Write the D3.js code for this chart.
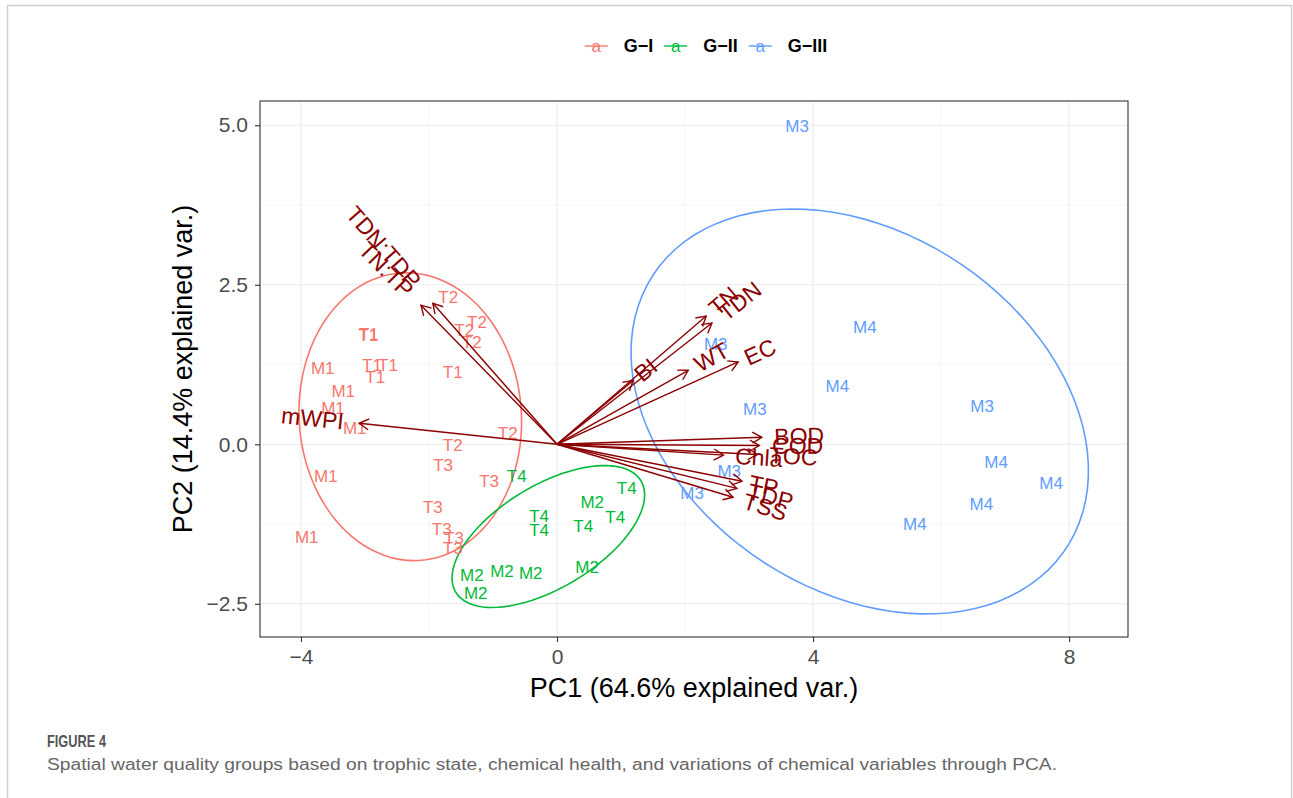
<!DOCTYPE html>
<html>
<head>
<meta charset="utf-8">
<script src="https://cdn.jsdelivr.net/npm/d3@7"></script>
<style>
  body { margin: 0; background: #fff; }
  text { font-family: "Liberation Sans", Arial, sans-serif; }
</style>
</head>
<body>
<div id="chart"></div>
<script>
// groups and their colours
const groupNames = ["G\u2212I", "G\u2212II", "G\u2212III"];
const groupColors = ["#F8766D", "#00BA38", "#619CFF"];

// observations (site labels, group index, PC scores)
const obsLabels = [
  "T1","T1","T1","T1","T1","T1",
  "T2","T2","T2","T2","T2","T2",
  "T3","T3","T3","T3","T3","T3",
  "M1","M1","M1","M1","M1","M1",
  "T4","T4","T4","T4","T4","T4",
  "M2","M2","M2","M2","M2","M2",
  "M3","M3","M3","M3","M3","M3",
  "M4","M4","M4","M4","M4","M4"
];
const obsGroup = [
  0,0,0,0,0,0, 0,0,0,0,0,0, 0,0,0,0,0,0, 0,0,0,0,0,0,
  1,1,1,1,1,1, 1,1,1,1,1,1,
  2,2,2,2,2,2, 2,2,2,2,2,2
];
const pc1 = [
  -2.95,-2.94,-2.89,-2.64,-2.84,-1.63,
  -1.70,-1.25,-1.45,-1.33,-0.77,-1.63,
  -1.78,-1.06,-1.94,-1.80,-1.61,-1.63,
  -3.66,-3.34,-3.50,-3.16,-3.61,-3.91,
  -0.63, 1.09, 0.91,-0.28,-0.28, 0.41,
   0.55,-1.33,-0.86,-0.41, 0.47,-1.27,
   3.75, 2.48, 3.09, 6.64, 2.69, 2.11,
   4.81, 4.38, 6.86, 7.72, 6.63, 5.59
];
const pc2 = [
   1.71, 1.72, 1.24, 1.24, 1.05, 1.13,
   2.30, 1.91, 1.79, 1.60, 0.17,-0.02,
  -0.33,-0.58,-0.99,-1.33,-1.47,-1.63,
   1.19, 0.82, 0.56, 0.25,-0.50,-1.46,
  -0.50,-0.69,-1.14,-1.13,-1.35,-1.29,
  -0.91,-2.05,-1.99,-2.02,-1.93,-2.34,
   4.98, 1.57, 0.55, 0.60,-0.42,-0.77,
   1.83, 0.91,-0.28,-0.61,-0.94,-1.25
];

// variable loadings (arrows)
const varNames = ["TDN:TDP","TN:TP","mWPI","TN","TDN","BI","WT","EC","BOD","COD","TOC","Chla","TP","TDP","TSS"];
const varPC1 = [-1.94,-2.125,-3.09, 2.33, 2.42, 1.19, 2.05, 2.83, 3.20, 3.16, 3.13, 2.60, 2.89, 2.81, 2.75];
const varPC2 = [ 2.21, 2.18, 0.33, 2.01, 1.90, 1.00, 1.16, 1.29, 0.11,-0.02,-0.16,-0.17,-0.58,-0.69,-0.83];

const xTicks = [-4, 0, 4, 8];
const yTicks = [-2.5, 0, 2.5, 5];
const xMinor = [-2, 2, 6];
const yMinor = [-1.25, 1.25, 3.75];

const xTitle = "PC1 (64.6% explained var.)";
const yTitle = "PC2 (14.4% explained var.)";
const figLabel = "FIGURE 4";
const caption = "Spatial water quality groups based on trophic state, chemical health, and variations of chemical variables through PCA.";

const ellipseProb = 0.817;

const W = 1293, H = 798;
const panel = {left: 260, top: 101, right: 1128, bottom: 637};

const svg = d3.select("#chart").append("svg")
  .attr("width", W).attr("height", H);

// outer figure frame
svg.append("path")
  .attr("d", "M7.5," + H + "V5.5H1291.5V" + H)
  .attr("fill", "none").attr("stroke", "#cfcfcf").attr("stroke-width", 1.5);

const x = d3.scaleLinear().domain([-4.64, 8.92]).range([panel.left, panel.right]);
const y = d3.scaleLinear().domain([-3.02, 5.38]).range([panel.bottom, panel.top]);

const g = svg.append("g");

// grid
g.selectAll(".xminor").data(xMinor).enter().append("line")
  .attr("x1", d => x(d)).attr("x2", d => x(d))
  .attr("y1", panel.top).attr("y2", panel.bottom)
  .attr("stroke", "#f0f0f0").attr("stroke-width", 0.6);
g.selectAll(".yminor").data(yMinor).enter().append("line")
  .attr("y1", d => y(d)).attr("y2", d => y(d))
  .attr("x1", panel.left).attr("x2", panel.right)
  .attr("stroke", "#f0f0f0").attr("stroke-width", 0.6);
g.selectAll(".xmajor").data(xTicks).enter().append("line")
  .attr("x1", d => x(d)).attr("x2", d => x(d))
  .attr("y1", panel.top).attr("y2", panel.bottom)
  .attr("stroke", "#ebebeb").attr("stroke-width", 1.1);
g.selectAll(".ymajor").data(yTicks).enter().append("line")
  .attr("y1", d => y(d)).attr("y2", d => y(d))
  .attr("x1", panel.left).attr("x2", panel.right)
  .attr("stroke", "#ebebeb").attr("stroke-width", 1.1);

// ellipses (normal-theory, per group)
const ed = Math.sqrt(-2 * Math.log(1 - ellipseProb));
const theta = d3.range(100).map(i => -Math.PI + 2 * Math.PI * i / 99);
groupNames.forEach((name, gi) => {
  const idx = d3.range(obsLabels.length).filter(i => obsGroup[i] === gi);
  const xs = idx.map(i => pc1[i]), ys = idx.map(i => pc2[i]);
  const mx = d3.mean(xs), my = d3.mean(ys), n = xs.length;
  let a = 0, b = 0, c = 0;
  for (let k = 0; k < n; k++) {
    a += (xs[k] - mx) ** 2; b += (xs[k] - mx) * (ys[k] - my); c += (ys[k] - my) ** 2;
  }
  a /= n - 1; b /= n - 1; c /= n - 1;
  const r11 = Math.sqrt(a), r12 = b / r11, r22 = Math.sqrt(c - r12 * r12);
  const pts = theta.map(t => [
    mx + ed * Math.cos(t) * r11,
    my + ed * (Math.cos(t) * r12 + Math.sin(t) * r22)
  ]);
  g.append("path")
    .attr("d", d3.line().x(d => x(d[0])).y(d => y(d[1]))(pts) + "Z")
    .attr("fill", "none").attr("stroke", groupColors[gi]).attr("stroke-width", 1.6);
});

// observation labels
g.selectAll(".obs").data(obsLabels).enter().append("text")
  .attr("x", (d, i) => x(pc1[i]))
  .attr("y", (d, i) => y(pc2[i]))
  .attr("text-anchor", "middle")
  .attr("dominant-baseline", "central")
  .attr("font-size", 17)
  .attr("fill", (d, i) => groupColors[obsGroup[i]])
  .text(d => d);

// arrows
svg.append("defs").append("marker")
  .attr("id", "arr").attr("viewBox", "-11 -7 13 14")
  .attr("refX", 0).attr("refY", 0)
  .attr("markerWidth", 13).attr("markerHeight", 14)
  .attr("markerUnits", "userSpaceOnUse").attr("orient", "auto")
  .append("path").attr("d", "M-9.5,-5.5L0,0L-9.5,5.5")
  .attr("fill", "none").attr("stroke", "#8B0000").attr("stroke-width", 1.4);

g.selectAll(".arrow").data(varNames).enter().append("line")
  .attr("x1", x(0)).attr("y1", y(0))
  .attr("x2", (d, i) => x(varPC1[i])).attr("y2", (d, i) => y(varPC2[i]))
  .attr("stroke", "#8B0000").attr("stroke-width", 1.4)
  .attr("marker-end", "url(#arr)");

g.selectAll(".vlab").data(varNames).enter().append("text")
  .attr("font-size", 23)
  .attr("fill", "#8B0000")
  .attr("dominant-baseline", "central")
  .text(d => d)
  .each(function(d, i) {
    const el = d3.select(this);
    const w = this.getComputedTextLength();
    const ang = Math.atan(varPC2[i] / varPC1[i]) * 180 / Math.PI;
    const pos = varPC1[i] > 0;
    el.attr("text-anchor", pos ? "start" : "end")
      .attr("x", pos ? 0.25 * w : -0.25 * w)
      .attr("y", 0)
      .attr("transform", "translate(" + x(varPC1[i]) + "," + y(varPC2[i]) + ") rotate(" + (-ang) + ")");
  });

// panel border
svg.append("rect")
  .attr("x", panel.left).attr("y", panel.top)
  .attr("width", panel.right - panel.left).attr("height", panel.bottom - panel.top)
  .attr("fill", "none").attr("stroke", "#333333").attr("stroke-width", 1.1);

// axes
const xAxis = svg.append("g")
  .attr("transform", "translate(0," + panel.bottom + ")")
  .call(d3.axisBottom(x).tickValues(xTicks).tickSize(5).tickPadding(7)
    .tickFormat(d => d < 0 ? "\u2212" + Math.abs(d) : d));
const yAxis = svg.append("g")
  .attr("transform", "translate(" + panel.left + ",0)")
  .call(d3.axisLeft(y).tickValues(yTicks).tickSize(5).tickPadding(7)
    .tickFormat(d => (d < 0 ? "\u2212" : "") + Math.abs(d).toFixed(1)));
[xAxis, yAxis].forEach(ax => {
  ax.select(".domain").remove();
  ax.selectAll(".tick line").attr("stroke", "#333333").attr("stroke-width", 1.1);
  ax.selectAll(".tick text").attr("fill", "#4D4D4D").attr("font-size", 21)
    .attr("font-family", "Liberation Sans, Arial, sans-serif");
});

svg.append("text")
  .attr("x", (panel.left + panel.right) / 2).attr("y", 697)
  .attr("text-anchor", "middle").attr("font-size", 27).attr("fill", "#000")
  .text(xTitle);
svg.append("text")
  .attr("transform", "translate(192," + (panel.top + panel.bottom) / 2 + ") rotate(-90)")
  .attr("text-anchor", "middle").attr("font-size", 27).attr("fill", "#000")
  .text(yTitle);

// legend
const leg = svg.append("g");
let lx = 0;
groupNames.forEach((name, gi) => {
  const it = leg.append("g");
  it.append("line").attr("x1", 0).attr("x2", 23).attr("y1", 0).attr("y2", 0)
    .attr("stroke", groupColors[gi]).attr("stroke-width", 1.4);
  it.append("text").attr("x", 11.5).attr("y", 0)
    .attr("text-anchor", "middle").attr("dominant-baseline", "central")
    .attr("font-size", 17).attr("fill", groupColors[gi]).text("a");
  const t = it.append("text").attr("x", 39).attr("y", 0)
    .attr("dominant-baseline", "central")
    .attr("font-size", 18).attr("font-weight", "bold").attr("fill", "#000").text(name);
  const w = 39 + t.node().getComputedTextLength();
  it.attr("transform", "translate(" + lx + ",0)");
  lx += w + 11;
});
const legW = lx - 11;
leg.attr("transform", "translate(" + (706 - legW / 2) + ",46)");

// caption
svg.append("text")
  .attr("x", 47).attr("y", 747)
  .attr("font-family", "Open Sans, sans-serif").attr("font-weight", 600)
  .attr("font-size", 16.5).attr("fill", "#555555")
  .attr("textLength", 59).attr("lengthAdjust", "spacingAndGlyphs")
  .text(figLabel);
svg.append("text")
  .attr("x", 47).attr("y", 770)
  .attr("font-family", "Open Sans, sans-serif")
  .attr("font-size", 16).attr("fill", "#666666")
  .attr("textLength", 1010).attr("lengthAdjust", "spacingAndGlyphs")
  .text(caption);
</script>
</body>
</html>
